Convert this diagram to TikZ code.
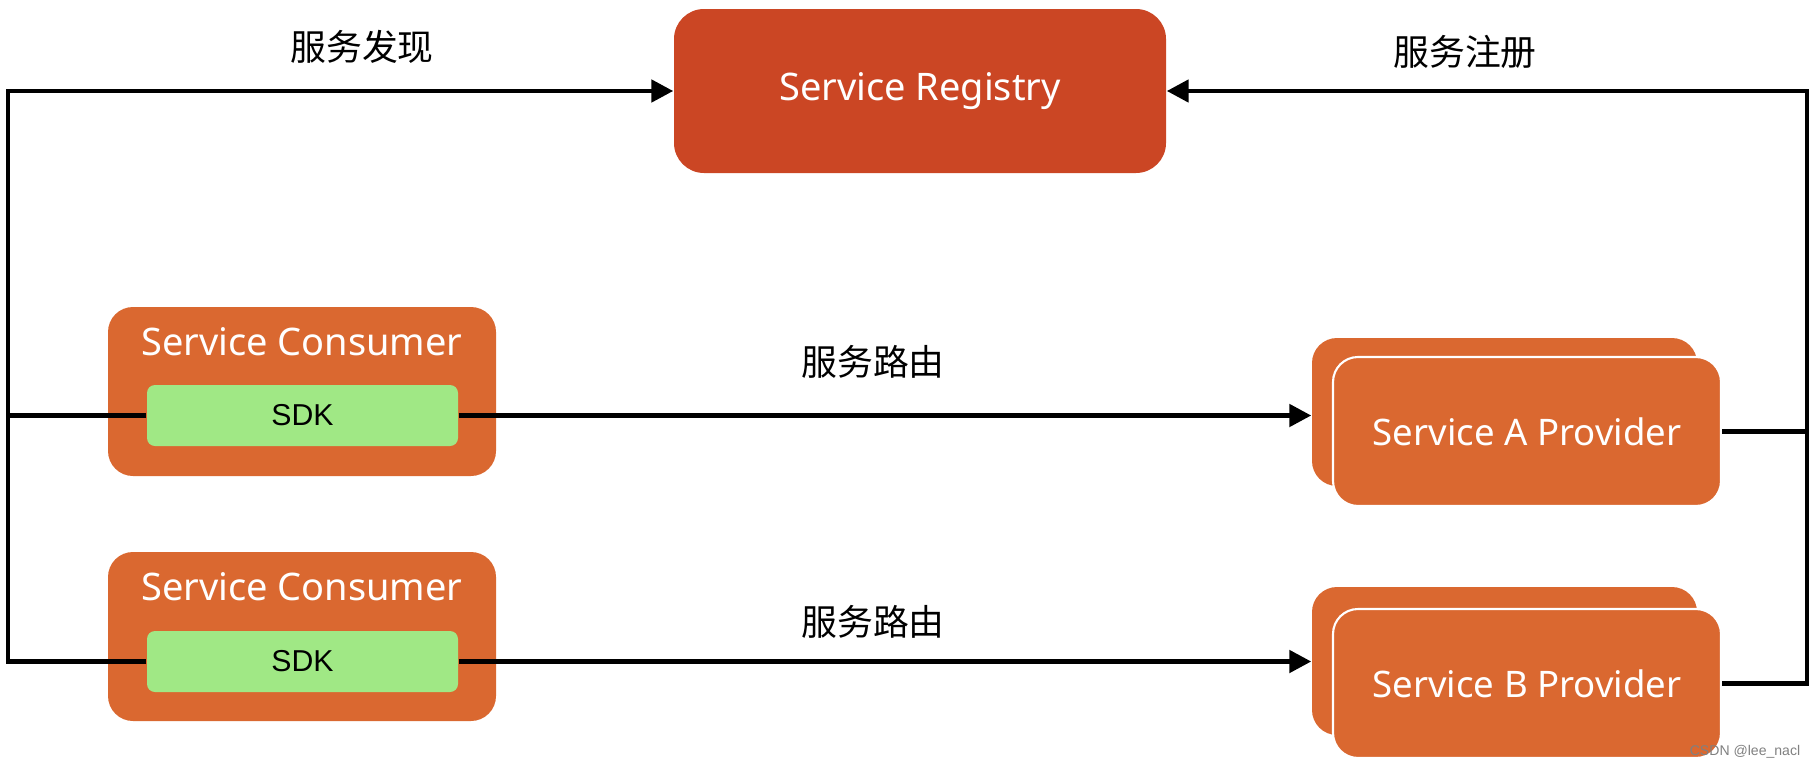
\documentclass[tikz,border=0pt]{standalone}
\usepackage{fontspec}
\setmainfont{Noto Sans}
\newfontfamily\cjk{Noto Sans CJK SC}
\newfontfamily\sdkfont{Liberation Sans}
\usetikzlibrary{arrows.meta}
\definecolor{regred}{RGB}{203,70,36}
\definecolor{boxorange}{RGB}{218,104,48}
\definecolor{sdkgreen}{RGB}{160,232,133}
\tikzset{
    regbox/.style={fill=regred, rounded corners=0.3cm, minimum width=4.92cm, minimum height=1.64cm, inner sep=0pt, text=white, font=\fontsize{10.8pt}{13pt}\selectfont},
    consbox/.style={fill=boxorange, rounded corners=0.25cm, minimum width=3.88cm, minimum height=1.69cm, inner sep=0pt},
    sdkbox/.style={fill=sdkgreen, rounded corners=0.08cm, minimum width=3.11cm, minimum height=0.61cm, inner sep=0pt, font=\sdkfont\fontsize{8.6pt}{10pt}\selectfont},
    provback/.style={fill=boxorange, rounded corners=0.25cm, minimum width=3.85cm, minimum height=1.48cm, inner sep=0pt},
    provbox/.style={provback, draw=white, line width=0.6pt, minimum width=3.88cm, minimum height=1.49cm, text=white, font=\fontsize{10.4pt}{12pt}\selectfont},
    wtext/.style={text=white, inner sep=0pt, font=\fontsize{10.8pt}{13pt}\selectfont},
    lbl/.style={inner sep=0pt, font=\cjk\fontsize{10.2pt}{12pt}\selectfont},
    link/.style={line width=1.4pt},
}
\begin{document}
\begin{tikzpicture}[>={Triangle[length=2.2mm,width=2.2mm]}]
        \useasboundingbox (0,0) rectangle (18.13,7.67);
        \begin{scope}
            \node[regbox] (reg) at (9.20,6.76) {Service Registry};
            \node[consbox] (consa) at (3.02,3.755) {};
            \node[wtext] (consatxt) at (3.02,4.25) {Service Consumer};
            \node[sdkbox] (sdka) at (3.025,3.515) {SDK};
            \node[consbox] (consb) at (3.02,1.305) {};
            \node[wtext] (consbtxt) at (3.02,1.80) {Service Consumer};
            \node[sdkbox] (sdkb) at (3.025,1.055) {SDK};
            \node[provback] (pab) at (15.045,3.55) {};
            \node[provbox] (paf) at (15.27,3.355) {Service A Provider};
            \node[provback] (pbb) at (15.045,1.06) {};
            \node[provbox] (pbf) at (15.27,0.835) {Service B Provider};
            \coordinate (lft) at (0.08,0);
            \coordinate (rgt) at (18.07,0);
            \draw[link] (sdka.west)--(sdka.west -| lft);
            \draw[link,->] (sdkb.west)--(sdkb.west -| lft)|-(reg.west);
            \draw[link] (paf.east)--(paf.east -| rgt);
            \draw[link,->] (pbf.east)--(pbf.east -| rgt)|-(reg.east);
            \draw[link,->] (sdka.east)--(sdka.east -| pab.west);
            \draw[link,->] (sdkb.east)--(sdkb.east -| pbb.west);
            \node[lbl] (disc) at (3.62,7.20) {服务发现};
            \node[lbl] (regl) at (14.65,7.15) {服务注册};
            \node[lbl] (routea) at (8.73,4.05) {服务路由};
            \node[lbl] (routeb) at (8.73,1.45) {服务路由};
            \node[inner sep=0pt, text=gray, font=\sdkfont\fontsize{4pt}{5pt}\selectfont] (mark) at (17.45,0.15) {CSDN @lee\_nacl};
        \end{scope}
    \end{tikzpicture}
\end{document}
